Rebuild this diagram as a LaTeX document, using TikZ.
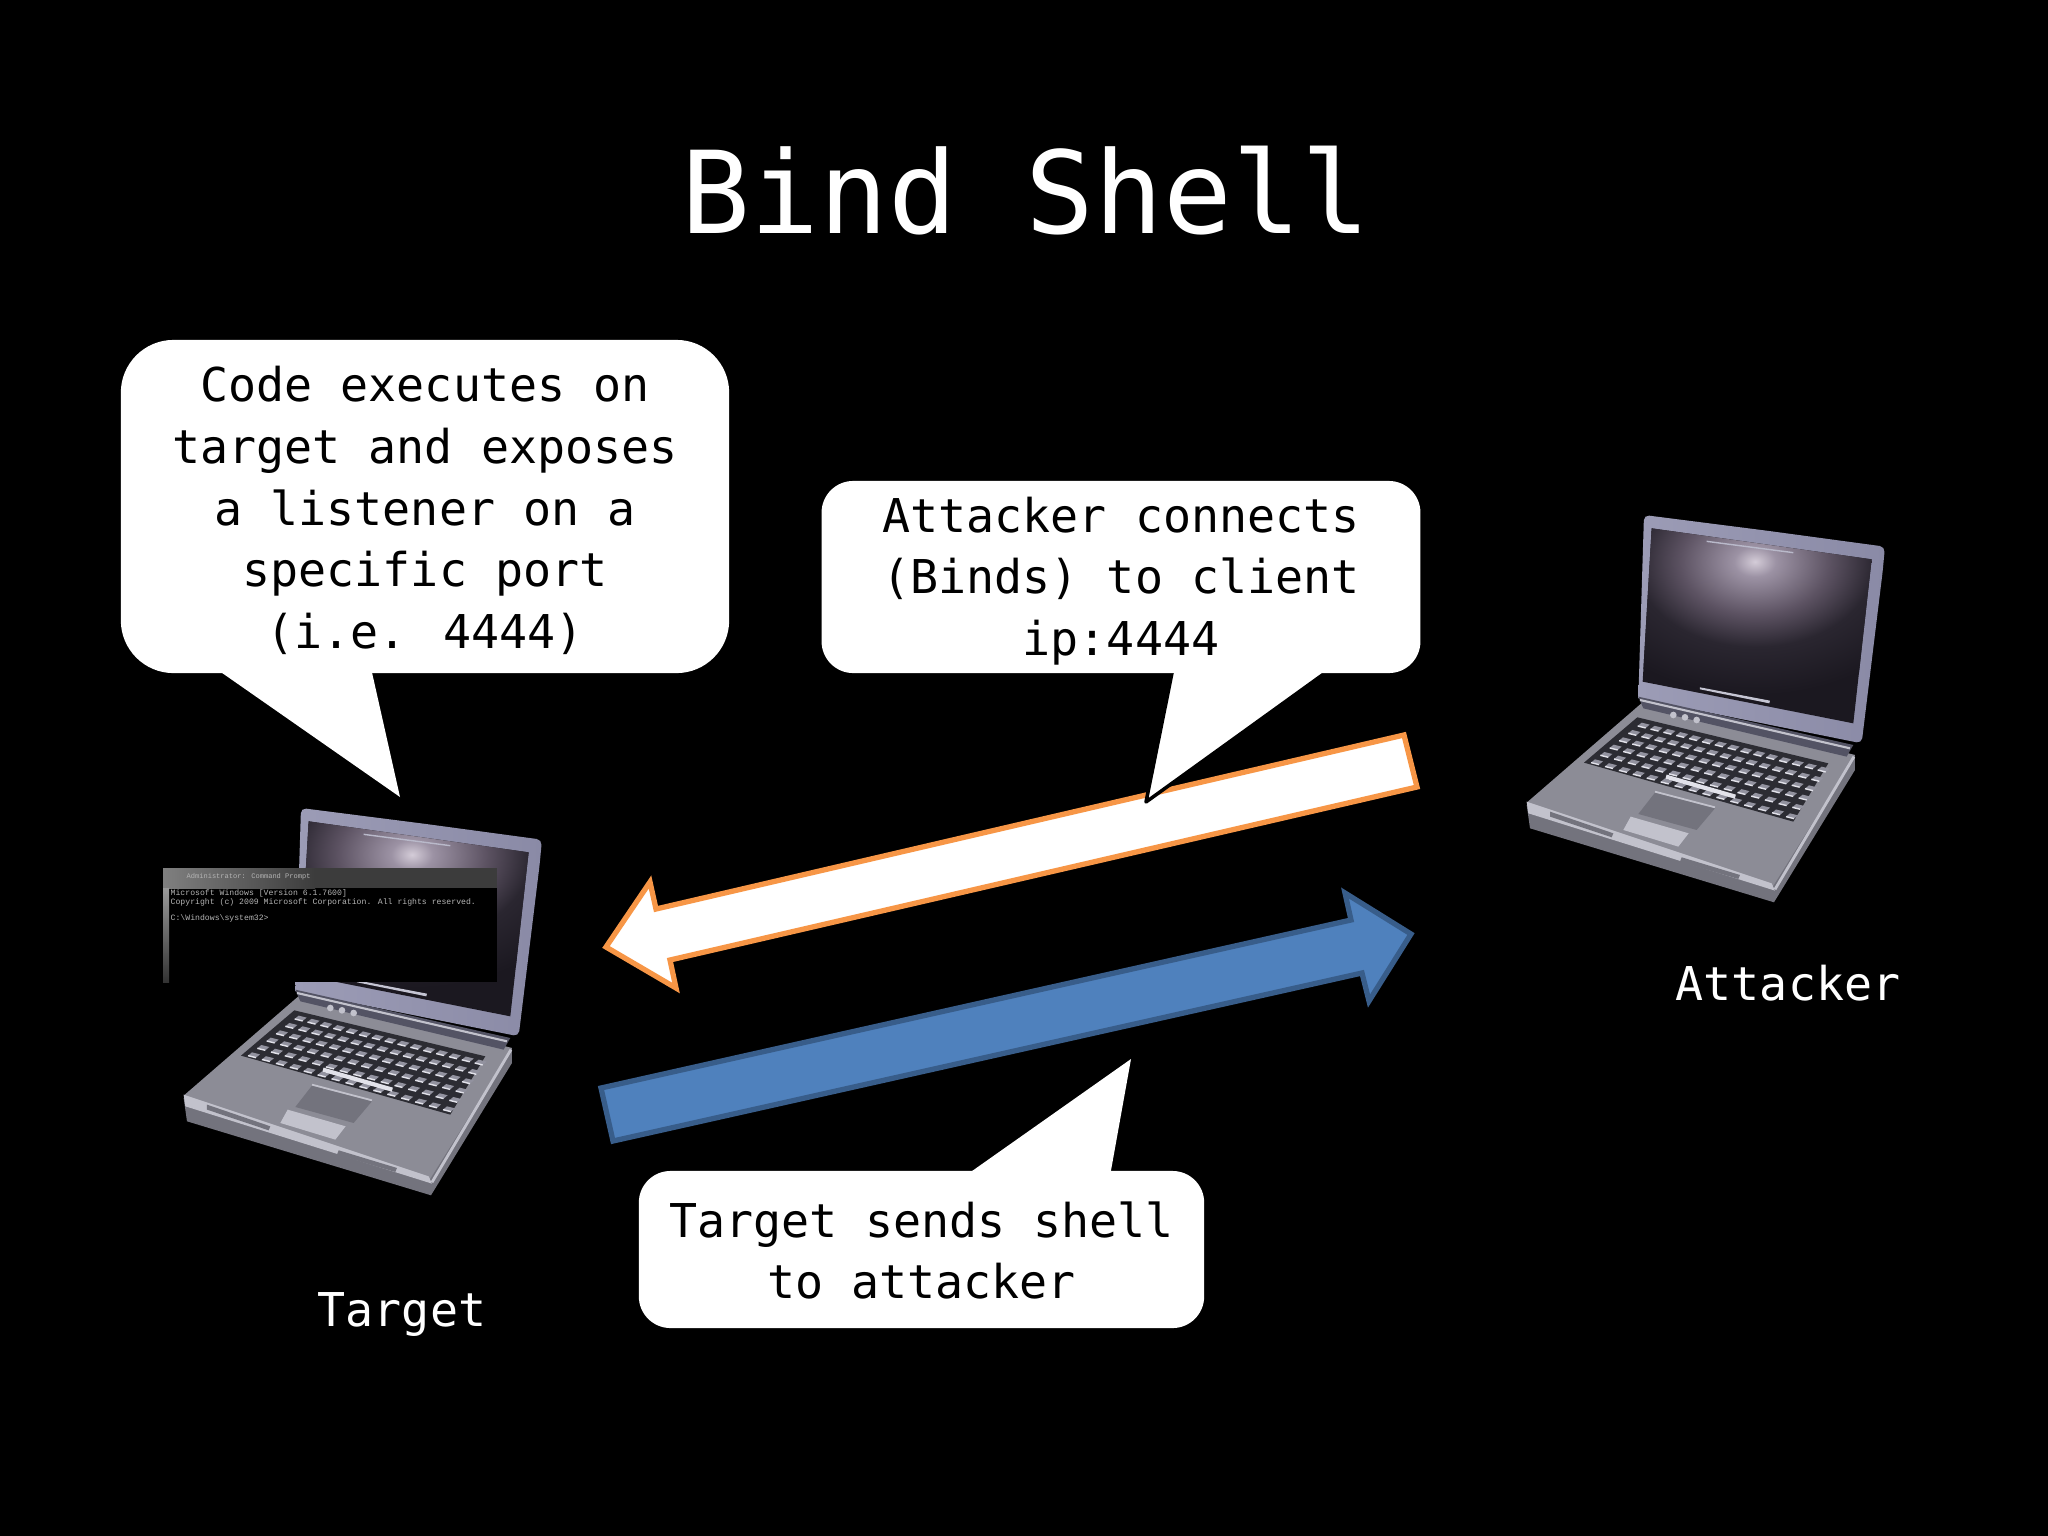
\documentclass[tikz,border=0pt]{standalone}
\usepackage{fontspec}
\setmainfont{DejaVu Sans Mono}
\newfontfamily\sysfont{Liberation Mono}

\definecolor{arroworange}{HTML}{F79646}
\definecolor{arrowblue}{HTML}{4F81BD}
\definecolor{arrowblueline}{HTML}{385D8A}
\definecolor{lidgray}{HTML}{8A8AA6}
\definecolor{lidlight}{HTML}{9C9CB6}
\definecolor{screendark}{HTML}{1B1820}
\definecolor{screenlow}{HTML}{2A2630}
\definecolor{screenmid}{HTML}{5C5262}
\definecolor{screenhigh}{HTML}{9C92A4}
\definecolor{screenglow}{HTML}{D4CCD8}
\definecolor{deckgray}{HTML}{8C8C96}
\definecolor{edgelight}{HTML}{C2C2CC}
\definecolor{edgedark}{HTML}{73737D}
\definecolor{keydark}{HTML}{2C2C33}
\definecolor{keyface}{HTML}{92929F}
\definecolor{keyshine}{HTML}{E2E2EA}
\definecolor{cmdbar}{HTML}{3C3C3C}
\definecolor{cmdtext}{HTML}{B4B4B4}

\pgfdeclareradialshading{screenshine}{\pgfpointorigin}{color(0bp)=(screenglow); color(2.8bp)=(screenhigh); color(10bp)=(screenmid); color(16bp)=(screenlow); color(25bp)=(screendark); color(50bp)=(screendark)}

\tikzset{
    bubble/.style={fill=white, inner sep=0pt},
    bubbletext/.style={text=black, align=center, inner sep=0pt, yshift=-1.1pt,
        font=\fontsize{13.25}{17.5}\selectfont},
    bubbletail/.style={fill=white},
    whitelabel/.style={text=white, inner sep=0pt, anchor=base,
        font=\fontsize{13.25}{17.5}\selectfont},
    laptop/.pic={
        % lid
        \shade[left color=lidlight, right color=lidgray, rounded corners=1.5pt]
        (800,92) -- (1155,140) -- (1148,215) -- (1085,730) [sharp corners] -- (415,595) [rounded corners=1.5pt] -- (432,45) -- cycle;
        \fill[screendark] (455,85) -- (1115,178) -- (1060,670) -- (428,545) -- cycle;
        \begin{scope}
            \clip (455,85) -- (1115,178) -- (1060,670) -- (428,545) -- cycle;
            \shade[shading=screenshine] (765,185) ellipse (560 and 400);
        \end{scope}
        \fill[white!50!lidgray] (600,562) -- (810,602) -- (808,610) -- (600,568) -- cycle;
        \draw[white!40!lidgray, line width=.4pt] (620,124) -- (880,158);
        % base
        \fill[edgedark] (80,915) -- (90,985) -- (822,1207) -- (1065,810) -- (1065,765) -- cycle;
        \fill[deckgray] (430,605) -- (1065,765) -- (815,1165) -- (80,908) -- cycle;
        \fill[edgelight] (80,905) -- (815,1150) -- (825,1172) -- (85,940) -- cycle;
        \draw[edgelight, line width=.8pt] (1062,770) -- (825,1168);
        \fill[edgedark] (150,935) -- (340,1000) -- (335,1012) -- (150,950) -- cycle;
        \fill[edgedark] (545,1072) -- (720,1125) -- (715,1137) -- (540,1085) -- cycle;
        % hinge and deck details
        \fill[lidgray!60!black] (415,590) -- (1060,735) -- (1040,770) -- (430,625) -- cycle;
        \draw[edgelight, line width=.6pt] (420,600) -- (1050,745);
        \foreach \dotx/\doty in {520/645, 555/652, 590/660}
            \fill[edgelight] (\dotx,\doty) circle (10);
        % keyboard
        \fill[keydark] (412,652) -- (985,790) -- (880,965) -- (252,788) -- cycle;
        \foreach \row in {0,...,5}
            \foreach \col in {0,...,14} {
                \pgfmathsetmacro{\keyx}{425+540*\col/14+\row/5*(-140+45*\col/14)}
                \pgfmathsetmacro{\keyy}{668+132*\col/14+\row/5*(110+30*\col/14)}
                \fill[keyface] (\keyx,\keyy) -- ++(24,6) -- ++(-12,10) -- ++(-24,-6) -- cycle;
                \draw[keyshine, line width=.4pt] (\keyx-12,\keyy+10) -- ++(24,6);
            }
        \draw[keyshine, line width=1.2pt] (498,830) -- (706,890);
        % touchpad
        \fill[edgedark] (465,878) -- (645,925) -- (590,990) -- (415,942) -- cycle;
        \draw[edgelight, line width=.5pt] (465,875) -- (645,922);
        \fill[edgelight] (392,950) -- (566,1000) -- (535,1040) -- (370,990) -- cycle;
    }
}

\begin{document}
\begin{tikzpicture}[x=0.01cm, y=-0.01cm]
    \fill[black] (0,0) rectangle (2048,1536);

    \node[text=white, inner sep=0pt, anchor=base, font=\fontsize{32.5}{36}\selectfont] (title) at (1026,233) {Bind Shell};

    \pic[scale=0.3333] at (1500,500) {laptop};
    \pic[scale=0.3333] at (157,793) {laptop};

    % console window on the target
    \fill[black] (163,868) rectangle (497,982);
    \fill[cmdbar] (163,868) rectangle (497,888);
    \shade[left color=gray, right color=cmdbar] (163,868) rectangle (315,888);
    \shade[top color=gray!80!white, bottom color=gray!40!black] (163,888) rectangle (169,982);
    \node[text=cmdtext, inner sep=0pt, anchor=west, font=\sysfont\fontsize{2}{3}\selectfont] (cmdtitle) at (186,877) {Administrator: Command Prompt};
    \node[text=cmdtext, inner sep=0pt, anchor=north west, align=left, font=\sysfont\fontsize{2.32}{2.4}\selectfont] (cmdtext) at (170,889) {Microsoft Windows [Version 6.1.7600]\\Copyright (c) 2009 Microsoft Corporation.  All rights reserved.\\[2.4pt]C:\textbackslash Windows\textbackslash system32>};

    % arrows
    \filldraw[fill=white, draw=arroworange, line width=1.5pt, miter limit=10]
    (1404,735) -- (1417,787) -- (670,960) -- (676,988) -- (606,947) -- (650,882) -- (656,909) -- cycle;
    \filldraw[fill=arrowblue, draw=arrowblueline, line width=1.5pt, miter limit=10]
    (601,1088) -- (613,1141) -- (1362,973) -- (1369,1001) -- (1411,934) -- (1345,893) -- (1351,920) -- cycle;

    % bubbles
    \coordinate (listenleft) at (215,668);
    \coordinate (listenright) at (371,668);
    \coordinate (listentip) at (400,797);
    \coordinate (connectleft) at (1173,668);
    \coordinate (connectright) at (1332,668);
    \coordinate (connecttip) at (1146,802);
    \coordinate (shellleft) at (965,1176);
    \coordinate (shellright) at (1110,1176);
    \coordinate (shelltip) at (1131,1059);
    \fill[bubbletail] (listenleft) -- (listentip) -- (listenright) -- cycle;
    \filldraw[bubbletail, draw=black, line width=1pt, line join=round] (connectleft) -- (connecttip) -- (connectright) -- cycle;
    \fill[bubbletail] (shellleft) -- (shelltip) -- (shellright) -- cycle;

    \node[bubble, rounded corners=15pt, minimum width=6.08cm, minimum height=3.33cm] (listenbox) at (425,506.5) {};
    \node[bubble, rounded corners=9pt, minimum width=5.985cm, minimum height=1.92cm] (connectbox) at (1121,577) {};
    \node[bubble, rounded corners=9pt, minimum width=5.65cm, minimum height=1.57cm] (shellbox) at (921.5,1249.5) {};

    \node[bubbletext] (listentext) at (listenbox) {Code executes on\\target and exposes\\a listener on a\\specific port\\(i.e. 4444)};
    \node[bubbletext] (connecttext) at (connectbox) {Attacker connects\\(Binds) to client\\ip:4444};
    \node[bubbletext, yshift=.8pt] (shelltext) at (shellbox) {Target sends shell\\to attacker};

    \node[whitelabel] (attackerlabel) at (1788,1000) {Attacker};
    \node[whitelabel] (targetlabel) at (402,1326) {Target};
\end{tikzpicture}
\end{document}
